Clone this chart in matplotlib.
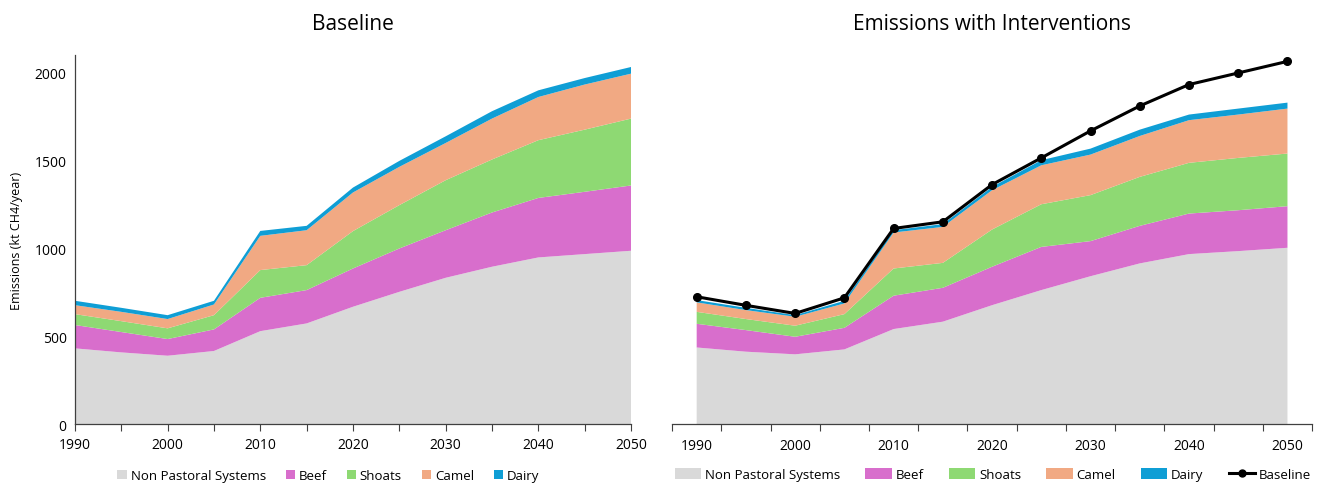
import matplotlib
matplotlib.use("Agg")
import matplotlib.pyplot as plt
import numpy as np
from matplotlib.patches import Patch
from matplotlib.lines import Line2D

plt.rcParams['font.family'] = ['Open Sans', 'DejaVu Sans']

years = [1990, 1995, 2000, 2005, 2010, 2015, 2020, 2025, 2030, 2035, 2040, 2045, 2050]
series_names = ["Non Pastoral Systems", "Beef", "Shoats", "Camel", "Dairy"]
colors = ["#D9D9D9", "#D86ECC", "#8ED973", "#F1A983", "#0F9ED5"]

# Baseline panel (kt CH4/year)
base_nps    = [431, 408, 389, 416, 529, 573, 668, 753, 833, 896, 949, 968, 987]
base_beef   = [133, 116,  95, 123, 190, 190, 218, 247, 271, 309, 339, 355, 372]
base_shoats = [ 62,  62,  61,  81, 158, 142, 213, 247, 285, 302, 329, 354, 381]
base_camel  = [ 51,  53,  53,  61, 195, 199, 220, 218, 212, 233, 246, 257, 256]
base_dairy  = [ 25,  23,  22,  21,  28,  25,  28,  34,  38,  42,  38,  37,  38]

# Interventions panel
int_nps    = [436, 412, 397, 425, 541, 583, 677, 763, 842, 915, 968, 985, 1004]
int_beef   = [135, 123, 100, 123, 190, 193, 219, 246, 200, 214, 231, 233, 237]
int_shoats = [ 68,  63,  63,  78, 155, 142, 212, 243, 262, 279, 289, 298, 300]
int_camel  = [ 54,  51,  51,  61, 205, 205, 224, 222, 231, 233, 243, 247, 256]
int_dairy  = [ 13,  13,   9,  15,  13,  16,  19,  29,  34,  36,  32,  34,  34]
baseline_total = [725, 676, 630, 719, 1114, 1152, 1364, 1516, 1670, 1812, 1934, 2000, 2066]

x_labels = ["1990", "2000", "2010", "2020", "2030", "2040", "2050"]

fig = plt.figure(figsize=(13.24, 4.85), dpi=100)

# ---- Left panel ----
ax1 = fig.add_axes([0.0566, 0.1237, 0.42, 0.76])
ax1.stackplot(years, base_nps, base_beef, base_shoats, base_camel, base_dairy,
              colors=colors, linewidth=0)
ax1.set_xlim(1990, 2050)
ax1.set_ylim(0, 2100)
ax1.set_xticks(list(range(1990, 2051, 10)))
ax1.set_xticks(list(range(1995, 2050, 10)), minor=True)
ax1.set_yticks([0, 500, 1000, 1500, 2000])
ax1.tick_params(axis='x', which='both', direction='out', length=5, width=0.8,
                colors='#404040', labelcolor='black', labelsize=10, pad=4)
ax1.tick_params(axis='y', length=0, labelsize=10, pad=6)
for s in ['top', 'right']:
    ax1.spines[s].set_visible(False)
for s in ['left', 'bottom']:
    ax1.spines[s].set_color('#404040')
    ax1.spines[s].set_linewidth(0.9)
ax1.set_ylabel("Emissions (kt CH4/year)", fontsize=9, labelpad=8)
ax1.set_title("Baseline", fontsize=15, pad=19)

h1 = [Patch(facecolor=c, edgecolor='none') for c in colors]
fig.legend(h1, series_names, loc='center', bbox_to_anchor=(0.248, 0.017), ncol=5,
           frameon=False, fontsize=9.5, handlelength=0.7, handleheight=0.7,
           handletextpad=0.3, columnspacing=1.5)

# ---- Right panel ----
ax2 = fig.add_axes([0.5076, 0.1237, 0.4834, 0.76])
idx = np.arange(len(years))
ax2.stackplot(idx, int_nps, int_beef, int_shoats, int_camel, int_dairy,
              colors=colors, linewidth=0)
ax2.plot(idx, baseline_total, color='black', linewidth=2.2, marker='o',
         markersize=5.5, zorder=5)
ax2.set_xlim(-0.5, len(years) - 0.5)
ax2.set_ylim(0, 2100)
ax2.set_xticks(np.arange(-0.5, len(years), 1.0), minor=True)
ax2.set_xticks(idx[::2])
ax2.set_xticklabels(x_labels)
ax2.tick_params(axis='x', which='major', length=0, labelsize=10, pad=10)
ax2.tick_params(axis='x', which='minor', direction='out', length=5, width=0.8,
                colors='#404040')
ax2.set_yticks([])
for s in ['top', 'right', 'left']:
    ax2.spines[s].set_visible(False)
ax2.spines['bottom'].set_color('#404040')
ax2.spines['bottom'].set_linewidth(0.9)
ax2.set_title("Emissions with Interventions", fontsize=15, pad=19)

h2 = [Patch(facecolor=c, edgecolor='none') for c in colors]
h2.append(Line2D([0], [0], color='black', linewidth=2.2, marker='o', markersize=5))
fig.legend(h2, series_names + ["Baseline"], loc='center', bbox_to_anchor=(0.75, 0.019),
           ncol=6, frameon=False, fontsize=9.5, handlelength=2.0, handleheight=0.9,
           handletextpad=0.3, columnspacing=1.9)

fig.savefig("out.png", dpi=100)
